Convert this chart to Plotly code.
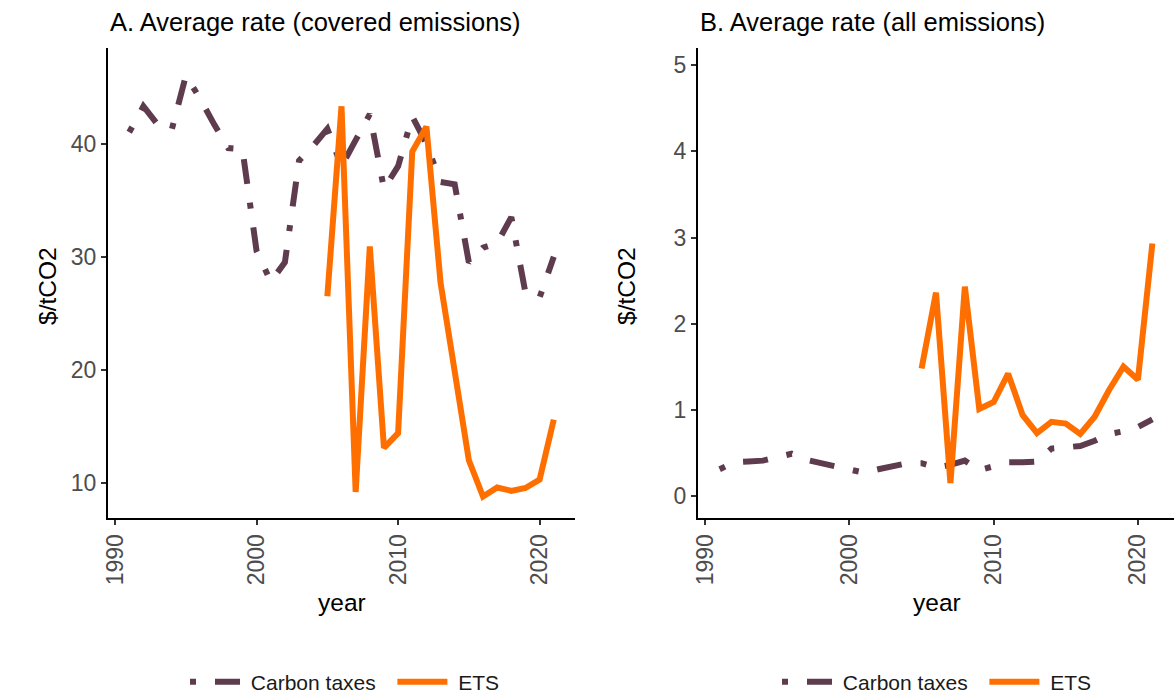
import plotly.graph_objects as go

# ---------------- data ----------------
years_ct = list(range(1991, 2022))
years_ets = list(range(2005, 2022))

ct_covered = [41.0, 43.3, 41.7, 41.2, 46.0, 44.0, 41.7, 39.6, 39.5, 30.5,
              27.8, 29.5, 38.5, 39.8, 41.3, 38.0, 40.3, 42.6, 36.0, 38.0,
              42.4, 40.0, 36.6, 36.4, 29.5, 30.8, 31.2, 33.5, 26.8, 26.4, 30.0]
ets_covered = [26.5, 43.3, 9.2, 30.9, 13.1, 14.4, 39.3, 41.5, 27.7, 19.8,
               12.0, 8.8, 9.6, 9.3, 9.55, 10.3, 15.6]

ct_all = [0.31, 0.39, 0.40, 0.41, 0.45, 0.49, 0.42, 0.38, 0.35, 0.30,
          0.27, 0.31, 0.34, 0.38, 0.38, 0.33, 0.36, 0.41, 0.30, 0.35,
          0.39, 0.39, 0.40, 0.55, 0.56, 0.58, 0.64, 0.72, 0.75, 0.80, 0.89]
ets_all = [1.48, 2.36, 0.15, 2.43, 1.01, 1.09, 1.42, 0.94, 0.73, 0.86,
           0.84, 0.72, 0.92, 1.23, 1.50, 1.35, 2.93]

x_ticks = [1990, 2000, 2010, 2020]
y_ticks_a = [10, 20, 30, 40]
y_ticks_b = [0, 1, 2, 3, 4, 5]

titles = ["A. Average rate (covered emissions)", "B. Average rate (all emissions)"]
series_names = ["Carbon taxes", "ETS"]

# ---------------- style ----------------
W, H = 1174, 693
PURPLE = "#5E3C4E"
ORANGE = "#FF6F00"
DASH = "6px,19px,25px,19px"
FONT = "Liberation Sans, Arial, sans-serif"
LW = 6
NB = "\u00a0"

def leg_name(i):
    if i == 0:
        return NB + series_names[0] + NB * 2
    return NB + series_names[1]

fig = go.Figure()

fig.add_trace(go.Scatter(x=years_ct, y=ct_covered, mode="lines", name=leg_name(0),
                         line=dict(color=PURPLE, width=LW, dash=DASH),
                         xaxis="x", yaxis="y", legend="legend"))
fig.add_trace(go.Scatter(x=years_ets, y=ets_covered, mode="lines", name=leg_name(1),
                         line=dict(color=ORANGE, width=LW),
                         xaxis="x", yaxis="y", legend="legend"))
fig.add_trace(go.Scatter(x=years_ct, y=ct_all, mode="lines", name=leg_name(0),
                         line=dict(color=PURPLE, width=LW, dash=DASH),
                         xaxis="x2", yaxis="y2", legend="legend2"))
fig.add_trace(go.Scatter(x=years_ets, y=ets_all, mode="lines", name=leg_name(1),
                         line=dict(color=ORANGE, width=LW),
                         xaxis="x2", yaxis="y2", legend="legend2"))

ydom = [(H - 518) / H, (H - 48) / H]
axis_common = dict(showgrid=False, zeroline=False, showline=True, linecolor="black",
                   linewidth=2, ticks="outside", ticklen=5, tickwidth=1.5,
                   tickcolor="#333333", tickfont=dict(size=23, color="#4D4D4D", family=FONT))

xa = dict(axis_common, domain=[108 / W, 575 / W], range=[1989.5, 2022.5],
          tickvals=x_ticks, tickangle=-90, anchor="y")
xb = dict(axis_common, domain=[698 / W, 1.0], range=[1989.5, 2022.5],
          tickvals=x_ticks, tickangle=-90, anchor="y2")
ya = dict(axis_common, domain=ydom, range=[6.9, 48.45], tickvals=y_ticks_a, anchor="x")
yb = dict(axis_common, domain=ydom, range=[-0.256, 5.2], tickvals=y_ticks_b, anchor="x2")

legend_common = dict(orientation="h", xanchor="center", yanchor="middle", y=(H - 682) / H,
                     font=dict(size=21, color="#1A1A1A", family=FONT),
                     bgcolor="rgba(0,0,0,0)", itemwidth=50, traceorder="normal")

annotations = [
    dict(text=titles[0], x=108 / W, y=1 - 22 / H, xref="paper", yref="paper",
         xanchor="left", yanchor="middle", showarrow=False,
         font=dict(size=25.5, color="black", family=FONT)),
    dict(text=titles[1], x=698 / W, y=1 - 22 / H, xref="paper", yref="paper",
         xanchor="left", yanchor="middle", showarrow=False,
         font=dict(size=25.5, color="black", family=FONT)),
    dict(text="$/tCO2", x=47 / W, y=1 - 286 / H, xref="paper", yref="paper",
         xanchor="center", yanchor="middle", textangle=-90, showarrow=False,
         font=dict(size=24.5, color="black", family=FONT)),
    dict(text="$/tCO2", x=626 / W, y=1 - 286 / H, xref="paper", yref="paper",
         xanchor="center", yanchor="middle", textangle=-90, showarrow=False,
         font=dict(size=24.5, color="black", family=FONT)),
    dict(text="year", x=342 / W, y=1 - 602 / H, xref="paper", yref="paper",
         xanchor="center", yanchor="middle", showarrow=False,
         font=dict(size=24.5, color="black", family=FONT)),
    dict(text="year", x=937 / W, y=1 - 602 / H, xref="paper", yref="paper",
         xanchor="center", yanchor="middle", showarrow=False,
         font=dict(size=24.5, color="black", family=FONT)),
]

fig.update_layout(
    width=W, height=H,
    margin=dict(l=0, r=0, t=0, b=0, autoexpand=False),
    paper_bgcolor="white", plot_bgcolor="white",
    font=dict(family=FONT),
    xaxis=xa, yaxis=ya, xaxis2=xb, yaxis2=yb,
    legend=dict(legend_common, x=345 / W),
    legend2=dict(legend_common, x=937 / W),
    annotations=annotations,
    showlegend=True,
)

fig.write_html("out.html")
